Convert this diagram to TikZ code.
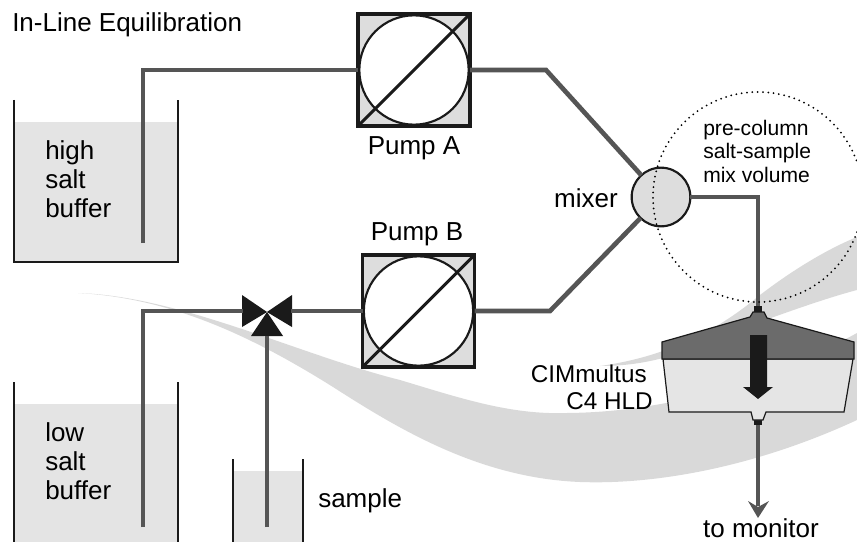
\documentclass[tikz,border=0pt]{standalone}
\usepackage{fontspec}
\setmainfont{Liberation Sans}
\definecolor{pipegray}{HTML}{555555}
\definecolor{inkblack}{HTML}{1A1A1A}
\definecolor{liquidgray}{HTML}{E4E4E4}
\definecolor{swooshgray}{HTML}{D9D9D9}
\definecolor{pumpgray}{HTML}{DDDDDD}
\tikzset{
  pipe/.style={draw=pipegray,line width=3.5pt},
  wall/.style={draw=inkblack,line width=2.2pt},
  pumpbox/.style={draw=inkblack,fill=pumpgray,line width=2.6pt,rectangle,minimum size=84pt,inner sep=0pt,outer sep=0pt},
  pumpwheel/.style={draw=inkblack,fill=white,line width=1.6pt,circle,minimum size=82pt,inner sep=0pt,outer sep=0pt},
  pumpline/.style={draw=inkblack,line width=2.2pt},
  mixball/.style={draw=inkblack,fill=pumpgray,line width=1.6pt,circle,minimum size=44pt,inner sep=0pt,outer sep=0pt},
  mixring/.style={draw=black,line width=1.5pt,line cap=round,dash pattern=on 0pt off 4pt,circle,minimum size=157.5pt,inner sep=0pt},
  valvepart/.style={fill=inkblack},
  label/.style={font=\fontsize{19.5}{22}\selectfont,inner sep=0pt},
  smalllabel/.style={font=\fontsize{15.8}{17.6}\selectfont,inner sep=0pt},
  columnlabel/.style={font=\fontsize{18.2}{20}\selectfont,inner sep=0pt}
}
\begin{document}
\begin{tikzpicture}[x=0.75pt,y=-0.75pt]
\clip (0,0) rectangle (857,542);
% background swooshes
\fill[swooshgray] (78,293) .. controls (180,296) and (300,355) .. (400,380)
  .. controls (460,398) and (510,415) .. (567,413)
  .. controls (680,412) and (780,375) .. (857,333) -- (857,420)
  .. controls (760,465) and (660,485) .. (580,482)
  .. controls (480,478) and (400,430) .. (333,387)
  .. controls (250,335) and (170,298) .. (78,293) -- cycle;
\fill[swooshgray] (600,366) .. controls (680,355) and (730,320) .. (760,295)
  .. controls (790,272) and (825,250) .. (857,237) -- (857,290)
  .. controls (800,305) and (700,345) .. (663,358)
  .. controls (640,364) and (620,366) .. (600,366) -- cycle;
% tanks
\fill[liquidgray] (14,122) rectangle (178,262);
\fill[liquidgray] (14,404) rectangle (178,542);
\fill[liquidgray] (233,471) rectangle (303,542);
\draw[wall] (14,100) -- (14,262) -- (178,262) -- (178,100);
\draw[wall] (14,382) -- (14,545);
\draw[wall] (178,382) -- (178,545);
\draw[wall] (233,459) -- (233,545);
\draw[wall] (303,459) -- (303,545);
% pumps
\node[pumpbox] (pumpA) at (414,70) {};
\node[pumpwheel] (wheelA) at (pumpA) {};
\draw[pumpline] (pumpA.south west) -- (pumpA.north east);
\node[pumpbox] (pumpB) at (418.5,311) {};
\node[pumpwheel] (wheelB) at (pumpB) {};
\draw[pumpline] (pumpB.south west) -- (pumpB.north east);
% valve
\coordinate (valve) at (267,312);
\coordinate (sampleport) at (267,336);
\fill[valvepart] (valve) -- (242,295) -- (242,327) -- cycle;
\fill[valvepart] (valve) -- (292,295) -- (292,327) -- cycle;
\fill[valvepart] (valve) -- (283,336) -- (251,336) -- cycle;
% mixer
\node[mixball] (mixer) at (661,197) {};
% column
\coordinate (colin) at (758,306);
\coordinate (colout) at (758,425);
\fill[inkblack] (754,306) rectangle (762,312);
\fill[inkblack] (754,420) rectangle (762,425);
\filldraw[draw=inkblack,fill=black!10,line width=0.9pt] (663,359) -- (669,412) -- (751,412) -- (753,420) -- (763,420) -- (766,412) -- (844,412) -- (853,359) -- cycle;
\filldraw[draw=inkblack,fill=black!58,line width=0.9pt] (662,359) -- (662,342) -- (750,317) -- (753,312) -- (764,312) -- (767,318) -- (854,342) -- (854,359) -- cycle;
\fill[inkblack] (750,335) -- (767,335) -- (767,387) -- (773,387) -- (758,399) -- (743,387) -- (750,387) -- cycle;
% pipes
\coordinate (highend) at (143,243);
\coordinate (lowend) at (143,527);
\coordinate (sampleend) at (267,527);
\coordinate (kneeA) at (546,70);
\coordinate (kneeB) at (550,311);
\coordinate (monitor) at (758,506);
\coordinate (valvewest) at (243,311);
\coordinate (valveeast) at (291,311);
\draw[pipe] (highend) |- (pumpA.west);
\draw[pipe] (pumpA.east) -- (kneeA) -- (mixer);
\draw[pipe] (pumpB.east) -- (kneeB) -- (mixer);
\draw[pipe] (mixer.east) -| (colin);
\draw[pipe] (lowend) |- (valvewest);
\draw[pipe] (valveeast) -- (pumpB.west);
\draw[pipe] (sampleend) -- (sampleport);
\draw[pipe] (colout) -- (monitor);
\fill[pipegray] (748,501) -- (758,507) -- (769,501) -- (758,518) -- cycle;
% dotted mix volume
\node[mixring] (mixvolume) at (758,197) {};
% labels
\node[label,anchor=west] (title) at (12,25) {In-Line Equilibration};
\node[label,anchor=north west,align=left] (hightext) at (45,140) {high\\salt\\buffer};
\node[label,anchor=north west,align=left] (lowtext) at (45,422) {low\\salt\\buffer};
\node[label,anchor=west] (sampletext) at (318,501) {sample};
\node[label] (pumpAtext) at (414,148) {Pump A};
\node[label] (pumpBtext) at (417,234) {Pump B};
\node[label] (mixertext) at (586,198) {mixer};
\node[smalllabel,anchor=north west,align=left] (mixtext) at (703,120) {pre-column\\salt-sample\\mix volume};
\node[columnlabel,anchor=east] (coltext) at (647,374) {CIMmultus};
\node[columnlabel,anchor=east] (coltextb) at (653,401) {C4 HLD};
\node[label] (monitortext) at (761,528) {to monitor};
\end{tikzpicture}
\end{document}
